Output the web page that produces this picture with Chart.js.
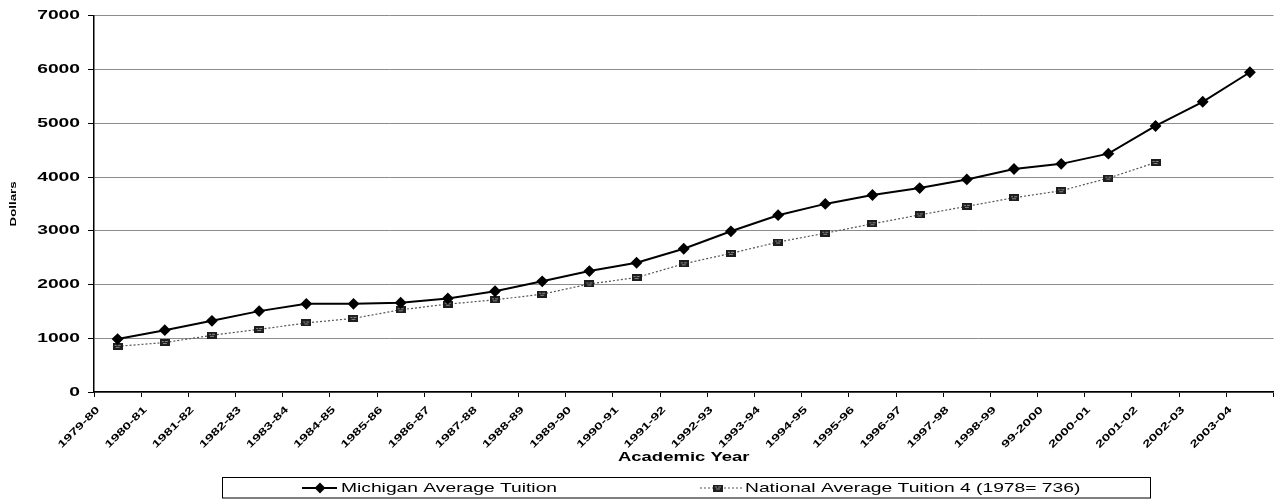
<!DOCTYPE html>
<html>
<head>
<meta charset="utf-8">
<script src="https://cdn.jsdelivr.net/npm/chart.js@4/dist/chart.umd.min.js"></script>
<style>
html,body{margin:0;padding:0;background:#fff;overflow:hidden;width:1275px;height:499px}
#wrap{width:1280px;height:499px;position:relative}
</style>
</head>
<body>
<div id="wrap"><canvas id="c" width="1280" height="499"></canvas></div>
<script>
// ---- data ----
const years = ['1979-80','1980-81','1981-82','1982-83','1983-84','1984-85','1985-86','1986-87','1987-88','1988-89',
  '1989-90','1990-91','1991-92','1992-93','1993-94','1994-95','1995-96','1996-97','1997-98','1998-99',
  '99-2000','2000-01','2001-02','2002-03','2003-04'];
const michigan = [985,1150,1325,1505,1640,1640,1660,1740,1875,2060,2250,2405,2665,2990,3290,3500,3665,3795,3955,4150,4245,4435,4950,5400,5950];
const national = [850,920,1055,1165,1285,1370,1530,1635,1715,1820,2010,2130,2385,2580,2790,2955,3130,3295,3455,3615,3745,3980,4270,null,null];
const seriesNames = ['Michigan Average Tuition','National Average Tuition 4 (1978= 736)'];
const yMin = 0, yMax = 7000, yStep = 1000;
const xTitle = 'Academic Year';
const yTitle = 'Dollars';

// ---- styling helpers ----
const FONT = '"Liberation Sans", Arial, Helvetica, sans-serif';
const SX = 1.48;   // wide (extended) lettering of the original

function makeSquare(){
  const c = document.createElement('canvas');
  c.width = 10; c.height = 7;
  const g = c.getContext('2d');
  g.fillStyle = '#1e1e1e'; g.fillRect(0,0,10,7);
  g.fillStyle = '#8a8a8a'; g.fillRect(2,2,2,1); g.fillRect(5,2,3,1); g.fillRect(3,4,4,1);
  return c;
}
const squareImg = makeSquare();

const wideText = {
  id: 'wideText',
  beforeInit(chart){
    const ctx = chart.ctx;
    const of = ctx.fillText.bind(ctx);
    const om = ctx.measureText.bind(ctx);
    ctx.fillText = function(t, x, y){
      ctx.save(); ctx.translate(x, y); ctx.scale(SX, 1); of(t, 0, 0); ctx.restore();
    };
    ctx.measureText = function(t){
      const m = om(t);
      return { width: m.width * SX,
        actualBoundingBoxAscent: m.actualBoundingBoxAscent,
        actualBoundingBoxDescent: m.actualBoundingBoxDescent,
        actualBoundingBoxLeft: m.actualBoundingBoxLeft * SX,
        actualBoundingBoxRight: m.actualBoundingBoxRight * SX };
    };
  }
};

const boxLegend = {
  id: 'boxLegend',
  afterDraw(chart){
    const ctx = chart.ctx;
    const ds = chart.data.datasets;
    ctx.save();
    ctx.strokeStyle = '#000'; ctx.lineWidth = 1;
    ctx.strokeRect(222.5, 477.5, 928, 20.5);
    const y = 488;
    ctx.strokeStyle = ds[0].borderColor; ctx.lineWidth = ds[0].borderWidth;
    ctx.beginPath(); ctx.moveTo(302, y); ctx.lineTo(337, y); ctx.stroke();
    Chart.helpers.drawPoint(ctx, {pointStyle:'rectRot', radius:4, borderWidth:1}, 320, y);
    ctx.fillStyle = '#000'; ctx.fill();
    ctx.strokeStyle = ds[1].borderColor; ctx.lineWidth = ds[1].borderWidth;
    ctx.setLineDash(ds[1].borderDash);
    ctx.beginPath(); ctx.moveTo(700, y); ctx.lineTo(742, y); ctx.stroke();
    ctx.setLineDash([]);
    ctx.drawImage(squareImg, 718 - 5, y - 3.5);
    ctx.font = '13px ' + FONT;
    ctx.fillStyle = '#000'; ctx.textBaseline = 'middle'; ctx.textAlign = 'left';
    ctx.fillText(ds[0].label, 341, y);
    ctx.fillText(ds[1].label, 745, y);
    ctx.restore();
  }
};

new Chart(document.getElementById('c'), {
  type: 'line',
  data: {
    labels: years,
    datasets: [
      { label: seriesNames[0], data: michigan, borderColor: '#000', borderWidth: 2,
        pointStyle: 'rectRot', pointRadius: 4.5, pointBackgroundColor: '#000', pointBorderColor: '#000',
        tension: 0, spanGaps: false },
      { label: seriesNames[1], data: national, borderColor: '#555', borderWidth: 1.2, borderDash: [2,2],
        pointStyle: squareImg, pointRadius: 5, tension: 0, spanGaps: false }
    ]
  },
  options: {
    responsive: false,
    animation: false,
    devicePixelRatio: 1,
    layout: { padding: { top: 14, left: 0, right: 0, bottom: 26 } },
    plugins: { legend: { display: false }, tooltip: { enabled: false } },
    scales: {
      x: {
        offset: true,
        grid: { display: true, drawOnChartArea: false, drawTicks: true, tickLength: 5, tickColor: '#000', offset: true },
        border: { color: '#000', width: 1.5 },
        ticks: { autoSkip: false, minRotation: 45, maxRotation: 45, labelOffset: -19.5, padding: 7,
          color: '#000', font: { family: FONT, size: 10, weight: 'bold' } },
        title: { display: true, text: xTitle, color: '#000', padding: { top: 0, bottom: 7.5 },
          font: { family: FONT, size: 12.5, weight: 'bold' } },
        afterFit(scale){ scale.height = 81; }
      },
      y: {
        min: yMin, max: yMax,
        grid: { color: '#8c8c8c', lineWidth: 1, tickLength: 6, tickColor: '#000' },
        border: { color: '#000', width: 1.5 },
        ticks: { stepSize: yStep, padding: 8, color: '#000', callback: v => String(v),
          font: { family: FONT, size: 13, weight: 'bold' } },
        title: { display: true, text: yTitle, color: '#000', padding: { top: 8, bottom: 0 },
          font: { family: FONT, size: 9, weight: 'bold' } },
        afterFit(scale){ scale.width = 94; }
      }
    }
  },
  plugins: [wideText, boxLegend]
});
</script>
</body>
</html>
